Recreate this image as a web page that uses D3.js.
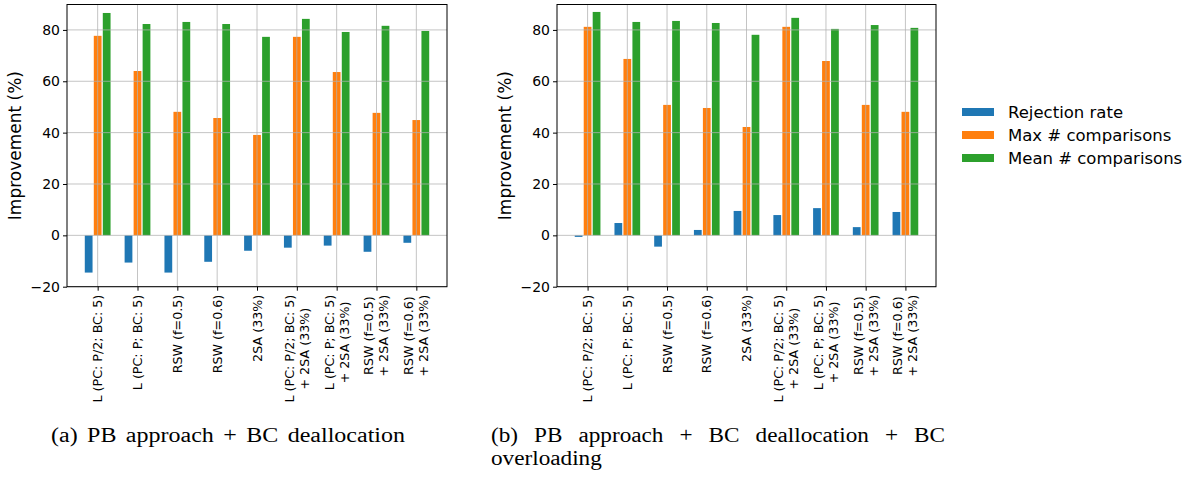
<!DOCTYPE html>
<html><head><meta charset="utf-8">
<script src="https://cdn.jsdelivr.net/npm/d3@7"></script>
<style>body{margin:0;background:#fff} svg{display:block}</style>
</head><body><svg id="c" width="1183" height="478"></svg>
<script>
const categories = [
  ["L (PC: P/2; BC: 5)"], ["L (PC: P; BC: 5)"], ["RSW (f=0.5)"], ["RSW (f=0.6)"], ["2SA (33%)"],
  ["L (PC: P/2; BC: 5)", "+ 2SA (33%)"], ["L (PC: P; BC: 5)", "+ 2SA (33%)"],
  ["RSW (f=0.5)", "+ 2SA (33%)"], ["RSW (f=0.6)", "+ 2SA (33%)"]
];
const seriesNames = ["Rejection rate", "Max # comparisons", "Mean # comparisons"];
const seriesColors = ["#1f77b4", "#ff7f0e", "#2ca02c"];
const rejectionA = [-14.5, -10.6, -14.5, -10.3, -6.0, -4.8, -4.0, -6.4, -2.9];
const maxCompA   = [77.7, 64.0, 48.1, 45.7, 39.1, 77.3, 63.6, 47.7, 44.9];
const meanCompA  = [86.6, 82.3, 83.1, 82.3, 77.3, 84.3, 79.2, 81.6, 79.6];
const rejectionB = [-0.6, 4.8, -4.4, 2.1, 9.5, 7.9, 10.6, 3.2, 9.1];
const maxCompB   = [81.2, 68.7, 50.8, 49.6, 42.2, 81.2, 67.9, 50.8, 48.1];
const meanCompB  = [87.0, 83.1, 83.5, 82.7, 78.1, 84.7, 80.4, 81.9, 80.8];
const yTicks = [-20, 0, 20, 40, 60, 80];
const yLabel = "Improvement (%)";
const captionA = [["(a)", "PB", "approach", "+", "BC", "deallocation"]];
const captionB = [["(b)", "PB", "approach", "+", "BC", "deallocation", "+", "BC"], ["overloading"]];

const svg = d3.select("#c");
const SANS = "DejaVu Sans";
const plotTop = 4.5, plotBottom = 286.7;
const y = d3.scaleLinear().domain([-20, 89.9]).range([plotBottom, plotTop]);

function drawPanel(x0, x1, series) {
  const x = d3.scaleLinear().domain([-0.77, 8.77]).range([x0, x1]);
  const g = svg.append("g");
  const unit = x(1) - x(0);
  const bw = 0.195 * unit, off = 0.226 * unit;
  series.forEach((vals, si) => {
    g.selectAll(null).data(vals).enter().append("rect")
      .attr("x", (d, i) => x(i) + (si - 1) * off - bw / 2)
      .attr("width", bw)
      .attr("y", d => y(Math.max(0, d)))
      .attr("height", d => Math.abs(y(0) - y(d)))
      .attr("fill", seriesColors[si]);
  });
  // grid on top
  const grid = g.append("g").attr("stroke", "#b0b0b0").attr("stroke-opacity", 0.75).attr("stroke-width", 1);
  grid.selectAll(null).data(d3.range(categories.length)).enter().append("line")
    .attr("x1", d => x(d)).attr("x2", d => x(d)).attr("y1", plotTop).attr("y2", plotBottom);
  grid.selectAll(null).data(yTicks).enter().append("line")
    .attr("x1", x0).attr("x2", x1).attr("y1", d => y(d)).attr("y2", d => y(d));
  // axes
  const yAx = d3.axisLeft(y).tickValues(yTicks).tickSize(4).tickPadding(3)
    .tickFormat(d => d < 0 ? "\u2212" + Math.abs(d) : d);
  const ya = g.append("g").attr("transform", `translate(${x0},0)`).call(yAx);
  ya.select(".domain").remove();
  ya.selectAll("text").attr("font-family", SANS).attr("font-size", 14).attr("fill", "#000");
  ya.selectAll("line").attr("stroke", "#000");
  const xAx = d3.axisBottom(x).tickValues(d3.range(categories.length)).tickSize(4).tickFormat("");
  const xa = g.append("g").attr("transform", `translate(0,${plotBottom})`).call(xAx);
  xa.select(".domain").remove();
  xa.selectAll("line").attr("stroke", "#000");
  // x tick labels, rotated
  categories.forEach((lines, i) => {
    const cx = x(i);
    const texts = lines.map((ln, li) => g.append("text").text(ln)
      .attr("font-family", SANS).attr("font-size", 12.7).attr("fill", "#000")
      .attr("text-anchor", "middle").attr("dominant-baseline", "central"));
    const maxW = d3.max(texts, t => t.node().getComputedTextLength());
    const cy = plotBottom + 8 + maxW / 2;
    const n = lines.length, lh = 15;
    texts.forEach((t, li) => {
      const tx = cx + (li - (n - 1) / 2) * lh;
      t.attr("transform", `translate(${tx},${cy}) rotate(-90)`);
    });
  });
  // frame
  g.append("rect").attr("x", x0).attr("y", plotTop).attr("width", x1 - x0).attr("height", plotBottom - plotTop)
    .attr("fill", "none").attr("stroke", "#000").attr("stroke-width", 1);
  // y label
  g.append("text").text(yLabel).attr("font-family", SANS).attr("font-size", 17)
    .attr("text-anchor", "middle").attr("dominant-baseline", "central")
    .attr("transform", `translate(${x0 - 52},${(plotTop + plotBottom) / 2}) rotate(-90)`);
}

drawPanel(67, 447, [rejectionA, maxCompA, meanCompA]);
drawPanel(557, 936, [rejectionB, maxCompB, meanCompB]);

// legend
const leg = svg.append("g");
seriesNames.forEach((name, i) => {
  const cy = 112 + i * 23;
  leg.append("rect").attr("x", 962).attr("y", cy - 4).attr("width", 32).attr("height", 8).attr("fill", seriesColors[i]);
  leg.append("text").text(name).attr("x", 1008).attr("y", cy).attr("dominant-baseline", "central")
    .attr("font-family", SANS).attr("font-size", 16.5).attr("fill", "#000");
});

// captions (justified words)
const SERIF = "Liberation Serif";
function caption(lines, x, y0, widths, stretch) {
  lines.forEach((words, li) => {
    const yy = y0 + li * 23;
    const ts = words.map(w => svg.append("text").text(w).attr("font-family", SERIF).attr("font-size", 20)
      .attr("fill", "#000").attr("y", yy));
    const ws = ts.map(t => t.node().getComputedTextLength() * stretch);
    ts.forEach((t, k) => t.attr("textLength", ws[k]).attr("lengthAdjust", "spacingAndGlyphs"));
    const total = d3.sum(ws);
    const target = widths[li];
    const gap = (target && words.length > 1) ? (target - total) / (words.length - 1) : 0;
    let cx = x;
    ts.forEach((t, k) => { t.attr("x", cx); cx += ws[k] + gap; });
  });
}
caption(captionA, 51, 442, [354], 1.2);
caption(captionB, 491, 442, [454, null], 1.16);
</script>
</body></html>
